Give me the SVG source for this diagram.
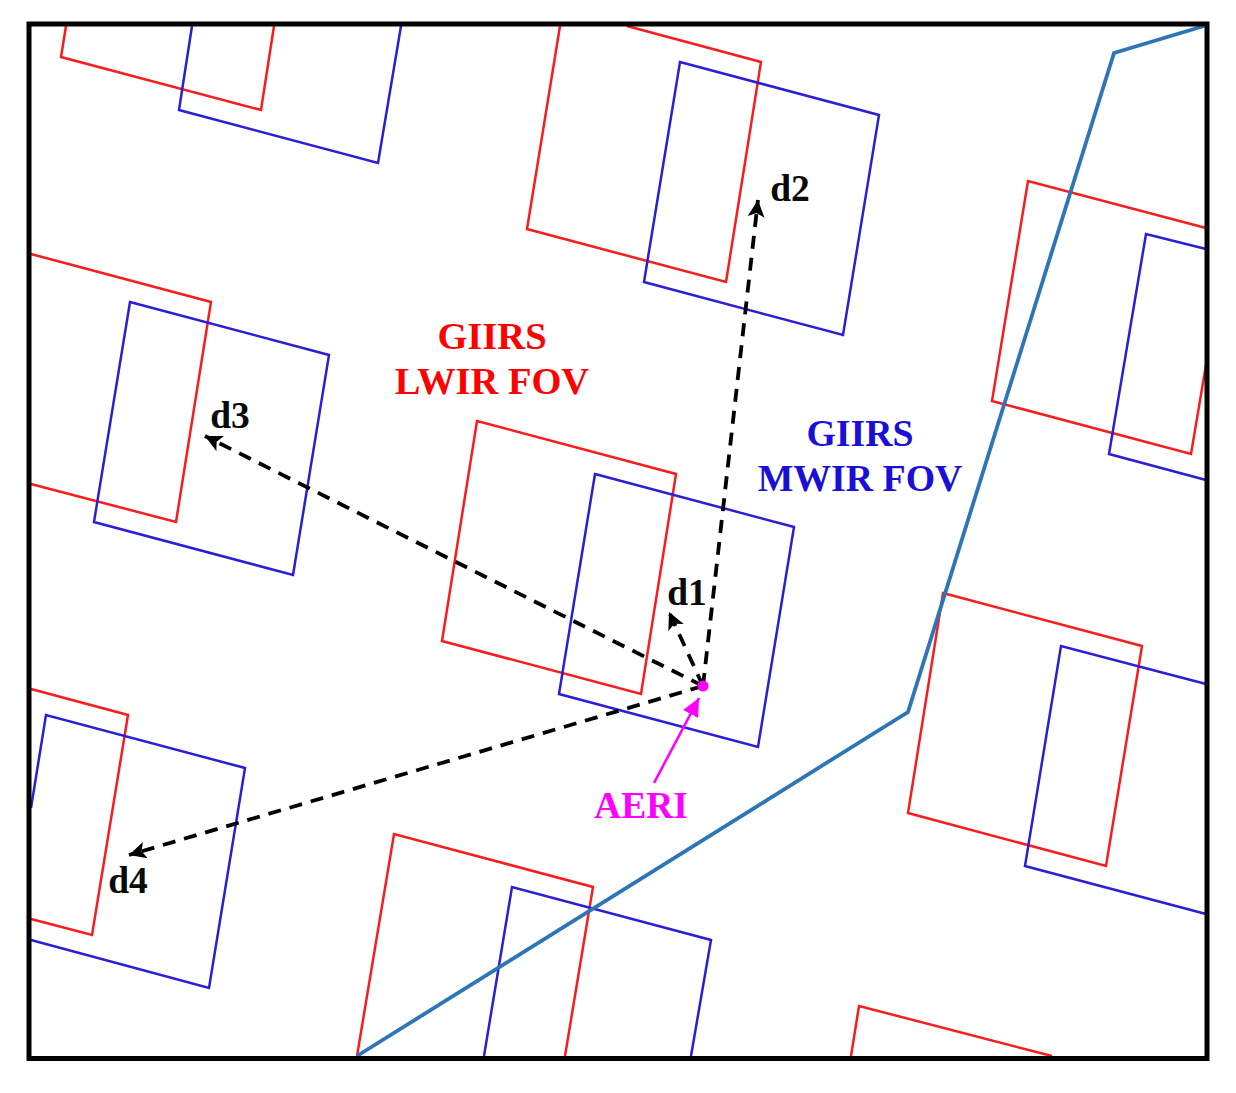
<svg xmlns="http://www.w3.org/2000/svg" width="1236" height="1093" viewBox="0 0 1236 1093">
<defs>
<style>
.r{fill:none;stroke:#f81c1c;stroke-width:2.5}
.b{fill:none;stroke:#2a1ed6;stroke-width:2.5}
.d{fill:none;stroke:#000;stroke-width:3.8;stroke-dasharray:13 9}
text{font-family:"Liberation Serif",serif;font-weight:bold;font-size:38.5px;text-anchor:middle}
.k{font-size:37.5px;fill:#0a0a0a}
.mw{font-size:37.8px}
</style>
<marker id="a" markerUnits="userSpaceOnUse" markerWidth="20" markerHeight="20" refX="17" refY="10" orient="auto"><path d="M0,1.5L17,10L0,18.5L4,10z" fill="#000"/></marker>
<marker id="m" markerUnits="userSpaceOnUse" markerWidth="20" markerHeight="20" refX="18" refY="10" orient="auto"><path d="M0,1.5L18,10L0,18.5z" fill="#f0f"/></marker>
</defs>
<rect width="1236" height="1093" fill="#fff"/>
<g id="fov-red">
<path class="r" d="M66,26L61,57L261,110L274,26"/>
<path class="r" d="M560,26L527,229L726,282L761,62L627,26"/>
<path class="r" d="M1206,228L1028,181L992,401L1191,454L1206,365"/>
<path class="r" d="M31,254L211,302L176,522L31,484"/>
<path class="r" d="M477,421L676,474L641,694L442,641Z"/>
<path class="r" d="M943,593L1142,646L1106,866L908,813Z"/>
<path class="r" d="M31,689L128,715L92,935L31,919"/>
<path class="r" d="M357,1056L394,834L593,887L565,1056"/>
<path class="r" d="M851,1056L859,1006L1052,1056"/>
</g>
<g id="fov-blue">
<path class="b" d="M192,26L179,110L378,163L401,26"/>
<path class="b" d="M680,62L879,115L843,335L644,282Z"/>
<path class="b" d="M1206,249L1146,234L1109,454L1206,480"/>
<path class="b" d="M130,302L329,355L293,575L94,522Z"/>
<path class="b" d="M595,474L794,527L758,747L559,694Z"/>
<path class="b" d="M1206,684L1061,646L1025,866L1206,914"/>
<path class="b" d="M31,808L46,715L245,768L209,988L31,940"/>
<path class="b" d="M484,1056L512,887L711,940L691,1056"/>
</g>
<g id="boundary"><path d="M357,1056L908,712L1114,53L1204,26" fill="none" stroke="#2e75b6" stroke-width="3.8"/></g>
<g id="connectors">
<path class="d" marker-end="url(#a)" d="M703,686L669,612"/>
<path class="d" marker-end="url(#a)" d="M703,686L758,200"/>
<path class="d" marker-end="url(#a)" d="M703,686L205,436"/>
<path class="d" marker-end="url(#a)" d="M703,686L129,855"/>
<path d="M654,783L699,698" fill="none" stroke="#f0f" stroke-width="2.6" marker-end="url(#m)"/>
</g>
<circle id="aeri-point" cx="703" cy="686" r="5.6" fill="#f0f"/>
<g id="labels">
<text x="492" y="349" fill="#f00">GIIRS</text>
<text x="492" y="394" fill="#f00">LWIR FOV</text>
<text class="mw" x="860" y="446" fill="#1a0fd6">GIIRS</text>
<text class="mw" x="860" y="491" fill="#1a0fd6">MWIR FOV</text>
<text x="641" y="818" fill="#f0f" style="font-size:37.5px">AERI</text>
<text class="k" x="687" y="605">d1</text>
<text class="k" x="790" y="201">d2</text>
<text class="k" x="230" y="428">d3</text>
<text class="k" x="128" y="893">d4</text>
</g>
<rect id="frame" x="29" y="24" width="1178" height="1034.5" fill="none" stroke="#000" stroke-width="5"/>
</svg>
